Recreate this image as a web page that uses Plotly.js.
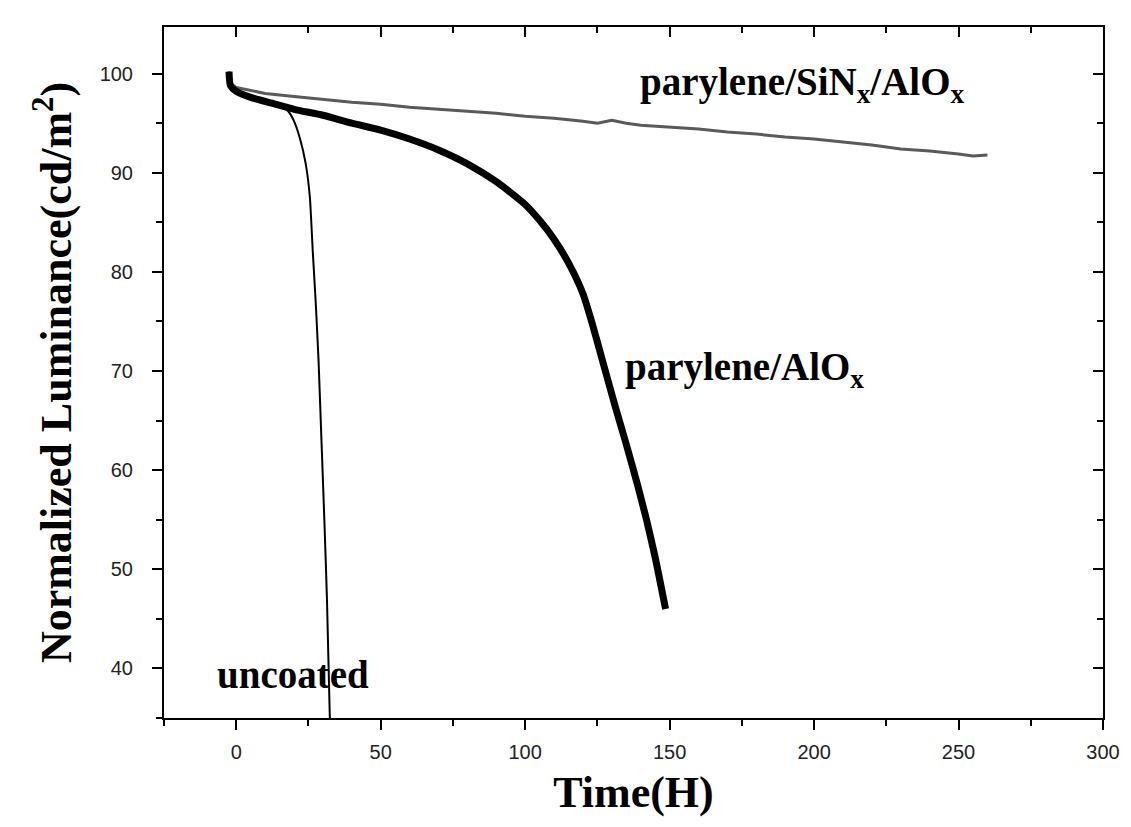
<!DOCTYPE html>
<html>
<head>
<meta charset="utf-8">
<script src="https://cdn.plot.ly/plotly-3.0.1.min.js"></script>
<style>html,body{margin:0;padding:0;background:#fff;}#chart{width:1131px;height:827px;}</style>
</head>
<body>
<div id="chart"></div>
<script>
// Time (H) and normalized luminance values
var uncoatedT = [-2.5, -2, 0, 5, 10, 15, 18, 20, 22, 24, 25.5, 26.5, 27.5, 28.5, 29.5, 30.5, 31.4, 32.4];
var uncoatedL = [100.2, 98.8, 98.2, 97.8, 97.4, 96.9, 96.2, 95.2, 93.5, 91, 87.5, 82, 77, 71, 63, 55, 47, 35];

var aloxT = [-2.5, -2, 0, 5, 10, 20, 30, 40, 50, 60, 70, 80, 90, 100, 105, 110, 115, 120, 123, 127, 131, 135, 139, 142, 145, 148.6];
var aloxL = [100.2, 98.8, 98.2, 97.6, 97.2, 96.4, 95.8, 95.0, 94.3, 93.4, 92.3, 90.9, 89.1, 86.8, 85.2, 83.3, 80.9, 77.8, 75.0, 70.8, 66.6, 62.6, 58.4, 55.0, 51.2, 46.0];

var sinxT = [-2.5, -2, 0, 5, 10, 20, 30, 40, 50, 60, 70, 80, 90, 100, 110, 120, 125, 130, 135, 140, 150, 160, 170, 180, 190, 200, 210, 220, 230, 240, 250, 255, 260];
var sinxL = [100.2, 99.0, 98.6, 98.3, 98.0, 97.7, 97.4, 97.1, 96.9, 96.6, 96.4, 96.2, 96.0, 95.7, 95.5, 95.2, 95.0, 95.3, 95.0, 94.8, 94.6, 94.4, 94.1, 93.9, 93.6, 93.4, 93.1, 92.8, 92.4, 92.2, 91.9, 91.7, 91.8];

var xRange = [-25, 300];
var yRange = [35, 104.7];
var xTickVals = [0, 50, 100, 150, 200, 250, 300];
var yTickVals = [40, 50, 60, 70, 80, 90, 100];

var labelFont = {family: 'Liberation Serif, Times New Roman, serif', size: 39, color: '#000'};
var titleFont = {family: 'Liberation Serif, Times New Roman, serif', size: 44, color: '#000'};

var traces = [
  {x: sinxT, y: sinxL, mode: 'lines', name: 'parylene/SiNx/AlOx', line: {color: '#5a5a5a', width: 3}},
  {x: aloxT, y: aloxL, mode: 'lines', name: 'parylene/AlOx', line: {color: '#000', width: 7, shape: 'spline', smoothing: 0.6}},
  {x: uncoatedT, y: uncoatedL, mode: 'lines', name: 'uncoated', line: {color: '#000', width: 2, shape: 'spline', smoothing: 0.4}},
  {x: [], y: [], xaxis: 'x2', yaxis: 'y2', showlegend: false, hoverinfo: 'skip'}
];

var tickFont = {family: 'Liberation Sans, Arial, sans-serif', size: 20, color: '#222'};

var layout = {
  width: 1131, height: 827,
  margin: {l: 164, r: 28, t: 27, b: 109},
  paper_bgcolor: '#fff', plot_bgcolor: '#fff',
  showlegend: false,
  xaxis: {
    range: xRange, tickvals: xTickVals, ticks: 'outside', ticklen: 10, tickwidth: 2, tickcolor: '#000',
    showline: true, linecolor: '#000', linewidth: 2, showgrid: false, zeroline: false,
    tickfont: tickFont, ticklabelstandoff: 5,
    minor: {dtick: 25, tick0: 0, ticks: 'outside', ticklen: 6, tickwidth: 2, tickcolor: '#000', showgrid: false},
    title: {text: '<b>Time(H)</b>', font: titleFont, standoff: 14}
  },
  yaxis: {
    range: yRange, tickvals: yTickVals, ticks: 'outside', ticklen: 10, tickwidth: 2, tickcolor: '#000',
    showline: true, linecolor: '#000', linewidth: 2, showgrid: false, zeroline: false,
    tickfont: tickFont, ticklabelstandoff: 15,
    minor: {dtick: 5, tick0: 0, ticks: 'outside', ticklen: 6, tickwidth: 2, tickcolor: '#000', showgrid: false},
    title: {text: '<b>Normalized Luminance(cd/m<sup>2</sup>)</b>', font: titleFont, standoff: 14}
  },
  xaxis2: {
    overlaying: 'x', side: 'top', anchor: 'y2', range: xRange, tickvals: xTickVals,
    ticks: 'inside', ticklen: 10, tickwidth: 2, tickcolor: '#000', showticklabels: false,
    showline: true, linecolor: '#000', linewidth: 2, showgrid: false, zeroline: false,
    minor: {dtick: 25, tick0: 0, ticks: 'inside', ticklen: 6, tickwidth: 2, tickcolor: '#000', showgrid: false}
  },
  yaxis2: {
    overlaying: 'y', side: 'right', anchor: 'x2', range: yRange, tickvals: yTickVals,
    ticks: 'inside', ticklen: 10, tickwidth: 2, tickcolor: '#000', showticklabels: false,
    showline: true, linecolor: '#000', linewidth: 2, showgrid: false, zeroline: false,
    minor: {dtick: 5, tick0: 0, ticks: 'inside', ticklen: 6, tickwidth: 2, tickcolor: '#000', showgrid: false}
  },
  annotations: [
    {x: 139, y: 98.9, xref: 'x', yref: 'y', xanchor: 'left', yanchor: 'middle', showarrow: false,
     text: '<b>parylene/SiN<sub>x</sub>/AlO<sub>x</sub></b>', font: labelFont},
    {x: 134, y: 70.2, xref: 'x', yref: 'y', xanchor: 'left', yanchor: 'middle', showarrow: false,
     text: '<b>parylene/AlO<sub>x</sub></b>', font: labelFont},
    {x: -7.5, y: 39.4, xref: 'x', yref: 'y', xanchor: 'left', yanchor: 'middle', showarrow: false,
     text: '<b>uncoated</b>', font: labelFont}
  ]
};

Plotly.newPlot('chart', traces, layout, {staticPlot: true, displayModeBar: false});
</script>
</body>
</html>
